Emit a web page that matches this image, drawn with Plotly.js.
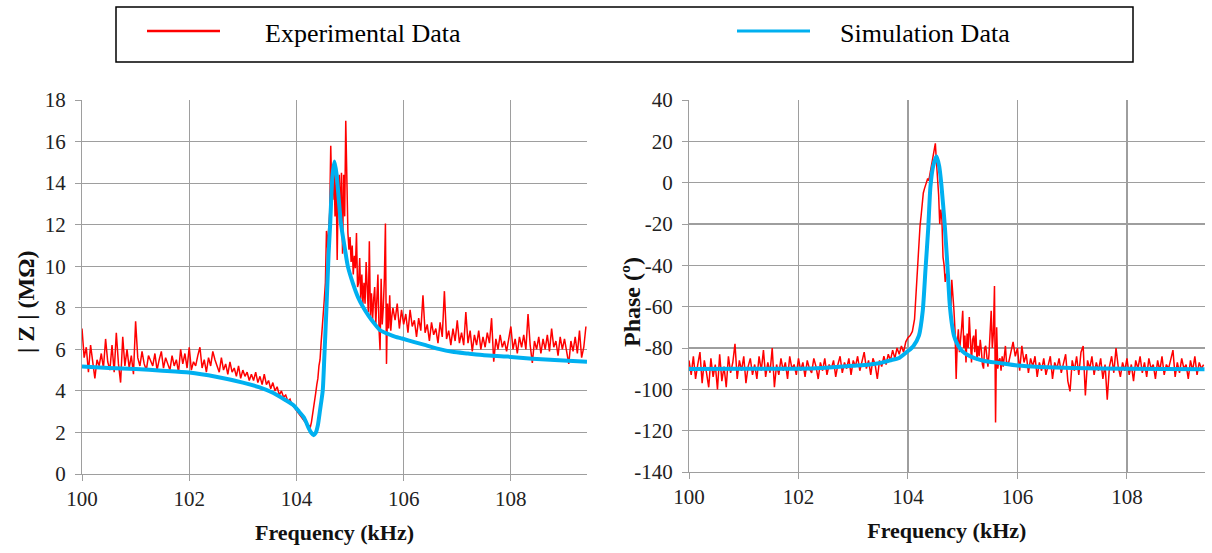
<!DOCTYPE html>
<html><head><meta charset="utf-8">
<script src="https://cdn.plot.ly/plotly-3.0.1.min.js"></script>
<style>html,body{margin:0;padding:0;background:#fff}#chart{width:1212px;height:553px}</style>
</head><body><div id="chart"></div>
<script>
// Experimental sweep frequencies (kHz), shared by both panels
const freqExp = [
100.00,100.04,100.08,100.12,100.16,100.20,100.24,100.28,100.32,100.36,
100.40,100.44,100.48,100.52,100.56,100.60,100.64,100.68,100.72,100.76,
100.80,100.84,100.88,100.92,100.96,101.00,101.04,101.08,101.12,101.16,
101.20,101.24,101.28,101.32,101.36,101.40,101.44,101.48,101.52,101.56,
101.60,101.64,101.68,101.72,101.76,101.80,101.84,101.88,101.92,101.96,
102.00,102.04,102.08,102.12,102.16,102.20,102.24,102.28,102.32,102.36,
102.40,102.44,102.48,102.52,102.56,102.60,102.64,102.68,102.72,102.76,
102.80,102.84,102.88,102.92,102.96,103.00,103.04,103.08,103.12,103.16,
103.20,103.24,103.28,103.32,103.36,103.40,103.44,103.48,103.52,103.56,
103.60,103.64,103.68,103.72,103.76,103.80,103.84,103.88,103.92,103.96,
104.00,104.04,104.08,104.12,104.16,104.20,
104.22,104.24,104.26,104.28,104.30,104.32,104.34,104.36,104.38,104.40,
104.42,104.44,104.46,104.48,104.50,104.52,104.54,104.56,104.58,104.60,
104.62,104.64,104.66,104.68,104.70,104.72,104.74,104.76,104.78,104.80,
104.82,104.84,104.86,104.88,104.90,104.92,104.94,104.96,104.98,105.00,
105.02,105.04,105.06,105.08,105.10,105.12,105.14,105.16,105.18,105.20,
105.22,105.24,105.26,105.28,105.30,105.32,105.34,105.36,105.38,105.40,
105.42,105.44,105.46,105.48,105.50,105.52,105.54,105.56,105.58,105.60,
105.62,105.64,105.66,105.68,105.70,105.72,105.74,105.76,105.78,105.80,
105.84,105.88,105.92,105.96,106.00,106.04,106.08,106.12,106.16,106.20,
106.24,106.28,106.32,106.36,106.40,106.44,106.48,106.52,106.56,106.60,
106.64,106.68,106.72,106.76,106.80,106.84,106.88,106.92,106.96,107.00,
107.04,107.08,107.12,107.16,107.20,107.24,107.28,107.32,107.36,107.40,
107.44,107.48,107.52,107.56,107.60,107.64,107.68,107.72,107.76,107.80,
107.84,107.88,107.92,107.96,108.00,108.04,108.08,108.12,108.16,108.20,
108.24,108.28,108.32,108.36,108.40,108.44,108.48,108.52,108.56,108.60,
108.64,108.68,108.72,108.76,108.80,108.84,108.88,108.92,108.96,109.00,
109.04,109.08,109.12,109.16,109.20,109.24,109.28,109.32,109.36,109.40
];
// Experimental |Z| (MOhm)
const zExp = [
7.0,5.6,6.1,4.9,6.2,5.3,4.6,5.5,5.2,5.8,
5.1,6.5,5.4,5.0,6.2,4.9,6.8,5.3,4.4,6.6,
5.2,6.0,5.1,5.7,4.8,7.35,5.6,5.2,5.9,5.3,
5.0,5.7,5.4,5.2,5.8,5.0,5.5,5.9,5.1,5.6,
5.3,5.0,5.7,5.2,5.5,4.9,6.0,5.3,5.8,5.1,
6.1,5.0,5.4,5.2,5.7,6.1,5.1,5.5,4.9,5.6,
5.2,5.9,5.5,5.2,4.9,5.6,5.0,5.3,4.8,5.4,
4.9,5.1,4.7,5.2,4.6,5.0,4.7,4.9,4.5,4.8,
4.5,4.9,4.4,4.7,4.3,4.8,4.3,4.5,4.1,4.4,
4.0,4.2,3.8,4.0,3.7,3.8,3.5,3.6,3.3,3.2,
3.05,2.9,2.75,2.6,2.5,2.4,
2.35,2.28,2.27,2.5,2.8,3.1,3.5,3.9,4.3,4.6,
5.2,5.5,6.3,6.9,7.4,8.4,9.2,11.7,10.9,11.8,
12.6,15.8,13.4,13.2,14.8,12.4,14.3,10.3,13.8,14.4,
12.2,14.5,10.6,14.4,12.4,17.0,12.9,11.6,10.8,11.4,
10.2,11.0,9.6,10.5,9.9,11.6,9.0,9.2,10.4,8.4,
9.6,8.2,9.2,8.2,10.2,8.6,7.8,11.2,7.6,8.7,
7.4,8.4,9.0,7.2,8.3,9.6,7.0,5.96,9.4,7.2,
8.0,9.4,12.06,5.3,8.2,7.0,8.6,6.9,7.6,8.0,
7.4,8.2,7.0,7.9,7.2,7.7,6.8,7.9,7.1,7.4,
6.6,7.5,6.9,8.6,6.8,7.2,6.4,7.3,6.7,7.0,
6.3,7.3,6.6,8.8,6.5,6.9,6.2,7.0,6.4,7.4,
6.3,6.8,6.2,7.8,6.3,6.9,5.9,6.7,6.2,6.9,
6.0,6.6,6.1,6.8,6.3,7.5,5.4,6.5,6.0,6.7,
6.1,6.4,5.9,6.6,7.1,6.0,6.5,5.8,6.6,6.1,
6.7,6.0,7.7,6.2,5.35,6.4,6.0,6.6,5.8,6.5,
6.0,6.7,5.9,7.0,6.1,6.4,5.7,6.6,6.0,6.5,
5.8,5.3,6.4,5.9,6.6,5.8,6.9,5.6,6.1,7.1
];
// Experimental phase (deg)
const phaseExp = [
-86,-93,-84,-95,-88,-82,-97,-86,-92,-99,
-85,-94,-88,-100,-83,-96,-89,-99,-84,-92,
-87,-78,-95,-86,-91,-84,-97,-89,-85,-93,
-88,-95,-84,-91,-81,-94,-87,-92,-80,-99,
-88,-93,-85,-91,-87,-95,-84,-90,-88,-93,
-85,-91,-87,-94,-86,-90,-92,-85,-89,-95,
-87,-91,-85,-93,-88,-90,-86,-94,-88,-84,
-92,-87,-90,-85,-93,-86,-89,-84,-91,-87,
-82,-90,-86,-93,-85,-88,-95,-86,-89,-84,
-88,-83,-86,-81,-85,-80,-83,-79,-82,-77,
-75,-74,-72,-66,-48,-27,
-21,-16,-10,-5,-3,-1,1,2,1,4,
6,8,11,14,19,10,2,-6,-20,-13,
-18,-36,-40,-48,-44,-46,-52,-60,-65,-47,
-58,-62,-72,-95,-78,-71,-82,-77,-70,-62,
-80,-74,-87,-73,-80,-65,-78,-87,-76,-74,
-82,-71,-86,-79,-84,-76,-81,-88,-90,-80,
-79,-85,-89,-83,-75,-62,-80,-73,-50,-116,
-70,-90,-86,-85,-91,-84,-89,-82,-79,-87,
-87,-82,-77,-84,-80,-91,-79,-87,-83,-92,
-85,-89,-84,-94,-87,-91,-85,-93,-88,-84,
-95,-87,-90,-85,-92,-88,-83,-96,-101,-86,
-91,-84,-93,-82,-79,-103,-86,-90,-84,-93,
-87,-91,-85,-95,-88,-105,-89,-84,-92,-80,
-89,-94,-87,-91,-85,-93,-88,-96,-86,-90,
-84,-92,-87,-94,-85,-90,-88,-95,-86,-91,
-84,-93,-88,-90,-86,-81,-94,-87,-92,-85,
-90,-88,-95,-86,-91,-84,-93,-87,-90,-88
];
// Simulation |Z|
const freqSimZ = [100,100.5,101,101.5,102,102.5,103,103.3,103.57,103.8,
103.95,104.05,104.14,104.23,104.28,104.32,104.36,104.40,104.44,104.49,
104.52,104.56,104.60,104.63,104.67,104.71,104.75,104.79,104.83,104.90,
104.96,105.05,105.15,105.24,105.35,105.45,105.56,105.7,105.85,105.97,
106.2,106.41,106.65,106.91,107.2,107.5,107.94,108.4,108.9,109.42];
const zSim = [5.17,5.1,5.05,4.97,4.88,4.68,4.4,4.18,3.9,3.55,
3.3,3.0,2.72,2.2,1.97,1.87,1.98,2.35,3.07,4.0,
5.6,8.0,10.6,12.06,14.3,15.04,14.4,13.2,12.06,10.9,
9.98,9.2,8.5,8.05,7.6,7.25,6.92,6.75,6.6,6.52,
6.35,6.2,6.02,5.88,5.8,5.72,5.65,5.55,5.47,5.4];
// Simulation phase
const freqSimP = [100,101,102,102.5,103,103.3,103.5,103.7,103.84,104.0,
104.1,104.2,104.27,104.32,104.37,104.41,104.46,104.52,104.57,104.61,
104.67,104.72,104.76,104.80,104.84,104.90,104.99,105.1,105.23,105.4,
105.65,106.0,106.4,107,108,109.42];
const phaseSim = [-90.2,-90.1,-90,-89.5,-88.6,-88,-87.2,-85.8,-84.8,-81.5,
-79,-74,-62,-42,-22,-2,8,12.8,8,-1,
-20,-40,-58,-68,-74,-78,-81.5,-83.5,-85,-86.3,
-87.2,-88.5,-89.2,-89.7,-90,-90.3];

const xTicks = [100,102,104,106,108];
const xTickText = ['100','102','104','106','108'];
const zTicks = [0,2,4,6,8,10,12,14,16,18];
const zTickText = ['0','2','4','6','8','10','12','14','16','18'];
const pTicks = [-140,-120,-100,-80,-60,-40,-20,0,20,40];
const pTickText = ['-140','-120','-100','-80','-60','-40','-20','0','20','40'];
const seriesNames = ['Experimental Data','Simulation Data'];
const xTitle = 'Frequency (kHz)';
const yTitleZ = '| Z | (MΩ)';
const yTitleP = 'Phase (º)';

const W = 1212, H = 553;
const FX = x => x / W, FY = y => 1 - y / H;
const FONT = 'Liberation Serif';
const RED = '#ff0000', BLUE = '#00b0f0', GRID = '#9e9e9e';

const traces = [
  {x: freqExp, y: zExp, xaxis: 'x', yaxis: 'y', mode: 'lines', name: seriesNames[0],
   line: {color: RED, width: 1.5}, showlegend: false},
  {x: freqSimZ, y: zSim, xaxis: 'x', yaxis: 'y', mode: 'lines', name: seriesNames[1],
   line: {color: BLUE, width: 4, shape: 'spline', smoothing: 0.6}, showlegend: false},
  {x: freqExp, y: phaseExp, xaxis: 'x2', yaxis: 'y2', mode: 'lines', name: seriesNames[0],
   line: {color: RED, width: 1.5}, showlegend: false},
  {x: freqSimP, y: phaseSim, xaxis: 'x2', yaxis: 'y2', mode: 'lines', name: seriesNames[1],
   line: {color: BLUE, width: 4, shape: 'spline', smoothing: 0.6}, showlegend: false}
];

function xAx(dom, anchor) {
  return {domain: dom, anchor: anchor, range: [100, 109.42], tickmode: 'array', tickvals: xTicks, ticktext: xTickText,
    showgrid: true, gridcolor: GRID, gridwidth: 1.1, zeroline: false,
    showline: true, linecolor: GRID, linewidth: 1.1, ticks: 'outside', ticklen: 6, tickcolor: GRID,
    tickfont: {family: FONT, size: 21, color: '#222'},
    title: {text: xTitle, standoff: 14, font: {family: FONT, size: 22, color: '#111', weight: 'bold'}}};
}
function yAx(dom, anchor, rng, tv, tt) {
  return {domain: dom, anchor: anchor, range: rng, tickmode: 'array', tickvals: tv, ticktext: tt,
    showgrid: true, gridcolor: GRID, gridwidth: 1.1, zeroline: false,
    showline: true, linecolor: GRID, linewidth: 1.1, ticks: 'outside', ticklen: 6, tickcolor: GRID,
    ticklabelstandoff: 5,
    tickfont: {family: FONT, size: 21, color: '#222'}};
}

const layout = {
  width: W, height: H, margin: {l: 0, r: 0, t: 0, b: 0},
  paper_bgcolor: '#fff', plot_bgcolor: '#fff', showlegend: false,
  font: {family: FONT},
  xaxis: xAx([FX(82), FX(587)], 'y'),
  yaxis: yAx([FY(474), FY(100)], 'x', [0, 18], zTicks, zTickText),
  xaxis2: xAx([FX(689), FX(1204.7)], 'y2'),
  yaxis2: yAx([FY(472), FY(100)], 'x2', [-140, 40], pTicks, pTickText),
  shapes: [
    {type: 'rect', xref: 'paper', yref: 'paper', x0: FX(116), x1: FX(1133), y0: FY(62), y1: FY(7),
     line: {color: '#000', width: 1.5}, fillcolor: 'rgba(0,0,0,0)'},
    {type: 'line', xref: 'paper', yref: 'paper', x0: FX(147), x1: FX(220), y0: FY(31), y1: FY(31),
     line: {color: RED, width: 2.5}},
    {type: 'line', xref: 'paper', yref: 'paper', x0: FX(737), x1: FX(810), y0: FY(31), y1: FY(31),
     line: {color: BLUE, width: 3}}
  ],
  annotations: [
    {xref: 'paper', yref: 'paper', x: FX(263), y: FY(33), xanchor: 'left', yanchor: 'middle',
     text: seriesNames[0], showarrow: false, font: {family: FONT, size: 26, color: '#000'}},
    {xref: 'paper', yref: 'paper', x: FX(838), y: FY(33), xanchor: 'left', yanchor: 'middle',
     text: seriesNames[1], showarrow: false, font: {family: FONT, size: 26, color: '#000'}},
    {xref: 'paper', yref: 'paper', x: FX(26), y: FY(302), xanchor: 'center', yanchor: 'middle',
     text: yTitleZ, textangle: -90, showarrow: false, font: {family: FONT, size: 24, color: '#111', weight: 'bold'}},
    {xref: 'paper', yref: 'paper', x: FX(632), y: FY(302), xanchor: 'center', yanchor: 'middle',
     text: yTitleP, textangle: -90, showarrow: false, font: {family: FONT, size: 24, color: '#111', weight: 'bold'}}
  ]
};

Plotly.newPlot('chart', traces, layout, {displayModeBar: false, staticPlot: true});
</script>
</body></html>
